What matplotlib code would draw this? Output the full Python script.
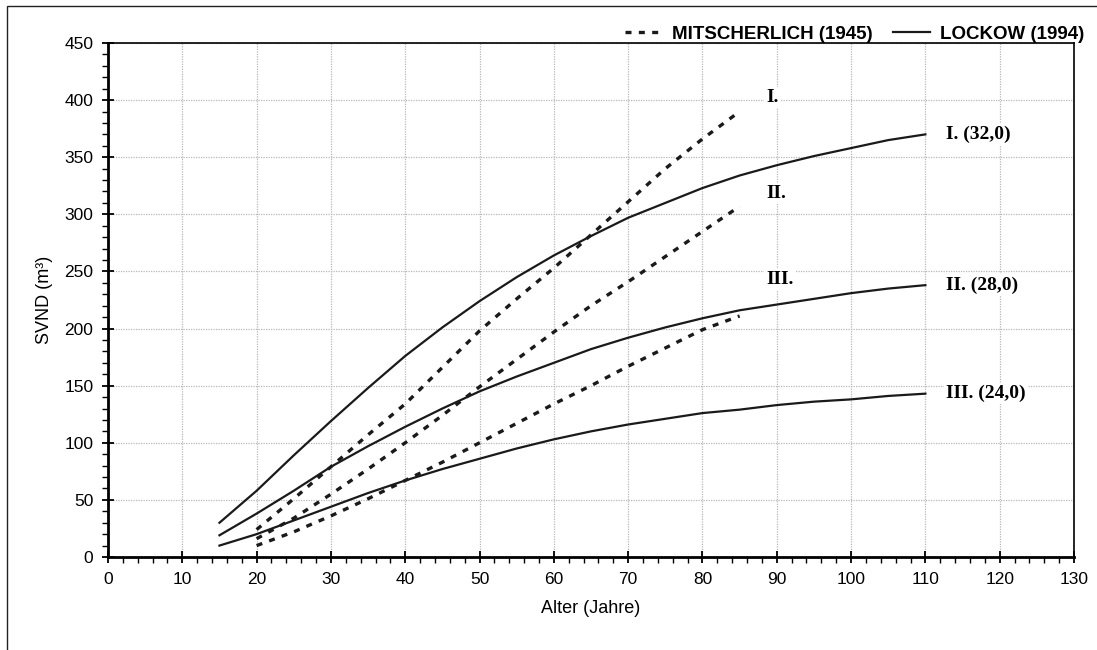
import matplotlib
matplotlib.use("Agg")
import matplotlib.pyplot as plt
from matplotlib.lines import Line2D
from matplotlib.patches import Rectangle
from matplotlib.ticker import MultipleLocator

# Lockow (1994) - solid curves, age 15..110
lockow_age = [15, 20, 25, 30, 35, 40, 45, 50, 55, 60, 65, 70, 75, 80, 85, 90, 95, 100, 105, 110]
lockow_I = [30, 58, 89, 119, 148, 176, 201, 224, 245, 264, 281, 297, 310, 323, 334, 343, 351, 358, 365, 370]
lockow_II = [19, 38, 58, 79, 97, 114, 130, 145, 158, 170, 182, 192, 201, 209, 216, 221, 226, 231, 235, 238]
lockow_III = [10, 20, 32, 44, 56, 67, 77, 86, 95, 103, 110, 116, 121, 126, 129, 133, 136, 138, 141, 143]
lockow_labels = ["I. (32,0)", "II. (28,0)", "III. (24,0)"]

# Mitscherlich (1945) - dashed curves, age 20..85
mitsch_age = [20, 25, 30, 35, 40, 45, 50, 55, 60, 65, 70, 75, 80, 85]
mitsch_I = [24, 51, 79, 107, 134, 166, 198, 226, 253, 282, 311, 340, 366, 390]
mitsch_II = [16, 34, 55, 77, 100, 124, 149, 173, 197, 220, 241, 263, 285, 307]
mitsch_III = [10, 22, 36, 51, 67, 83, 100, 117, 134, 150, 167, 183, 199, 211]
mitsch_labels = ["I.", "II.", "III."]
mitsch_label_y = [402, 318, 243]

plt.rcParams['font.family'] = ['Liberation Sans', 'DejaVu Sans']

fig = plt.figure(figsize=(10.97, 6.5), dpi=100)
ax = fig.add_axes([108 / 1097, 1 - 557 / 650, (1074 - 108) / 1097, (557 - 43) / 650])

# outer frame around the whole chart
fig.patches.append(Rectangle((7 / 1097, -0.05), 1.1, 1.05 - 6 / 650, transform=fig.transFigure,
                             fill=False, edgecolor='#222222', linewidth=1.0, clip_on=False))

dash_style = dict(color='#1a1a1a', linewidth=2.4, linestyle=(0, (1.8, 2.2)))
solid_style = dict(color='#1a1a1a', linewidth=1.6)

for vals in (mitsch_I, mitsch_II, mitsch_III):
    ax.plot(mitsch_age, vals, **dash_style)
for vals in (lockow_I, lockow_II, lockow_III):
    ax.plot(lockow_age, vals, **solid_style)

serif = dict(family=['Liberation Serif', 'DejaVu Serif'], fontweight='bold', fontsize=14)
box = dict(facecolor='white', edgecolor='none', pad=1.5)
for txt, vals in zip(lockow_labels, (lockow_I, lockow_II, lockow_III)):
    ax.text(112.8, vals[-1], txt, va='center', ha='left', bbox=box, **serif)
for txt, yv in zip(mitsch_labels, mitsch_label_y):
    ax.text(88.6, yv, txt, va='center', ha='left', bbox=box, **serif)

ax.set_xlim(0, 130)
ax.set_ylim(0, 450)
ax.xaxis.set_major_locator(MultipleLocator(10))
ax.xaxis.set_minor_locator(MultipleLocator(2))
ax.yaxis.set_major_locator(MultipleLocator(50))
ax.yaxis.set_minor_locator(MultipleLocator(10))
ax.tick_params(which='major', direction='inout', length=9, width=1.3, labelsize=12.5, pad=6)
ax.tick_params(which='minor', direction='out', length=4, width=1.0)
ax.grid(True, which='major', color='#b8b8b8', linestyle=(0, (1, 1)), linewidth=0.9)

for side in ('left', 'bottom'):
    ax.spines[side].set_linewidth(2.0)
for side in ('top', 'right'):
    ax.spines[side].set_linewidth(1.2)

ax.set_xlabel("Alter (Jahre)", fontsize=13, labelpad=10)
ax.set_ylabel("SVND (m³)", fontsize=13, labelpad=8)

handles = [Line2D([], [], **dash_style), Line2D([], [], **solid_style)]
fig.legend(handles, ["MITSCHERLICH (1945)", "LOCKOW (1994)"], loc='center right',
           bbox_to_anchor=(1084 / 1097, 1 - 34 / 650), ncol=2, frameon=False,
           prop=dict(weight='bold', size=13.5), handlelength=2.0, handletextpad=0.5,
           columnspacing=1.1, borderpad=0, borderaxespad=0)

fig.savefig("out.png", dpi=100)
